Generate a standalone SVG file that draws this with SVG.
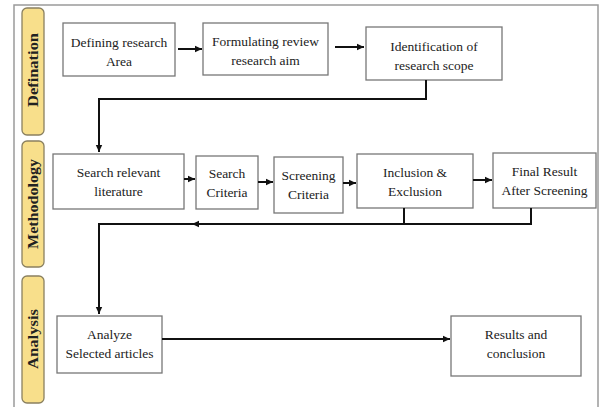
<svg xmlns="http://www.w3.org/2000/svg" width="602" height="407" viewBox="0 0 602 407">
<defs>
<marker id="ah" markerWidth="8" markerHeight="8" refX="7" refY="4" orient="auto" markerUnits="userSpaceOnUse">
<path d="M0,0.8 L7,4 L0,7.2 z" fill="#111"/>
</marker>
<style>
.frame{fill:#fff;stroke:#9a9a9a;stroke-width:1.5}
.lane{fill:#f8df8b;stroke:#8a8060;stroke-width:1.3}
.lt{font-family:'Liberation Serif','DejaVu Serif',serif;font-weight:bold;font-size:14px;fill:#222;text-anchor:middle}
.box{fill:#fff;stroke:#777;stroke-width:1.3}
.t{font-family:'Liberation Serif','DejaVu Serif',serif;font-size:13.5px;fill:#222;text-anchor:middle}
.c{fill:none;stroke:#111;stroke-width:2}
</style>
</defs>
<rect x="0" y="0" width="602" height="407" fill="#fff"/>
<rect class="frame" x="14" y="5" width="584" height="410"/>

<g id="lane-defination"><rect class="lane" x="22" y="8" width="22" height="127" rx="5"/><text class="lt" transform="translate(38,70) rotate(-90)" textLength="74" lengthAdjust="spacingAndGlyphs">Defination</text></g>
<g id="lane-methodology"><rect class="lane" x="22" y="141" width="22" height="126" rx="5"/><text class="lt" transform="translate(38,204) rotate(-90)" textLength="90" lengthAdjust="spacingAndGlyphs">Methodology</text></g>
<g id="lane-analysis"><rect class="lane" x="22" y="276" width="22" height="127" rx="5"/><text class="lt" transform="translate(38,339) rotate(-90)" textLength="60" lengthAdjust="spacingAndGlyphs">Analysis</text></g>

<g id="n1"><rect class="box" x="63" y="23" width="112" height="53"/><text class="t" x="119" y="47">Defining research</text><text class="t" x="119" y="66">Area</text></g>
<g id="n2"><rect class="box" x="203" y="23" width="125" height="52"/><text class="t" x="265.5" y="46">Formulating review</text><text class="t" x="265.5" y="65">research aim</text></g>
<g id="n3"><rect class="box" x="366" y="27" width="136" height="53"/><text class="t" x="434" y="51">Identification of</text><text class="t" x="434" y="70">research scope</text></g>

<g id="n4"><rect class="box" x="53" y="154" width="131" height="55"/><text class="t" x="118.5" y="177">Search relevant</text><text class="t" x="118.5" y="196">literature</text></g>
<g id="n5"><rect class="box" x="196" y="156" width="62" height="53"/><text class="t" x="227" y="178">Search</text><text class="t" x="227" y="197">Criteria</text></g>
<g id="n6"><rect class="box" x="274" y="157" width="69" height="56"/><text class="t" x="308.5" y="180">Screening</text><text class="t" x="308.5" y="199">Criteria</text></g>
<g id="n7"><rect class="box" x="357" y="154" width="116" height="54"/><text class="t" x="415" y="177">Inclusion &amp;</text><text class="t" x="415" y="196">Exclusion</text></g>
<g id="n8"><rect class="box" x="493" y="153" width="103" height="55"/><text class="t" x="544.5" y="176">Final Result</text><text class="t" x="544.5" y="195">After Screening</text></g>

<g id="n9"><rect class="box" x="57" y="316" width="105" height="57"/><text class="t" x="109.5" y="339">Analyze</text><text class="t" x="109.5" y="358">Selected articles</text></g>
<g id="n10"><rect class="box" x="451" y="316" width="130" height="60"/><text class="t" x="516" y="339">Results and</text><text class="t" x="516" y="358">conclusion</text></g>

<g id="connectors">
<line class="c" x1="178" y1="49" x2="202" y2="49" marker-end="url(#ah)"/>
<line class="c" x1="335" y1="47" x2="364" y2="47" marker-end="url(#ah)"/>
<polyline class="c" points="426,80 426,99 99,99 99,152" marker-end="url(#ah)"/>
<line class="c" x1="184" y1="179" x2="195" y2="179" marker-end="url(#ah)"/>
<line class="c" x1="258" y1="182" x2="273" y2="182" marker-end="url(#ah)"/>
<line class="c" x1="343" y1="183" x2="356" y2="183" marker-end="url(#ah)"/>
<line class="c" x1="473" y1="180" x2="492" y2="180" marker-end="url(#ah)"/>
<polyline class="c" points="404,208 404,224"/>
<polyline class="c" points="531,208 531,224 192,224" marker-end="url(#ah)"/>
<polyline class="c" points="196,224 99,224 99,314" marker-end="url(#ah)"/>
<line class="c" x1="162" y1="339" x2="450" y2="339" marker-end="url(#ah)"/>
</g>
</svg>
